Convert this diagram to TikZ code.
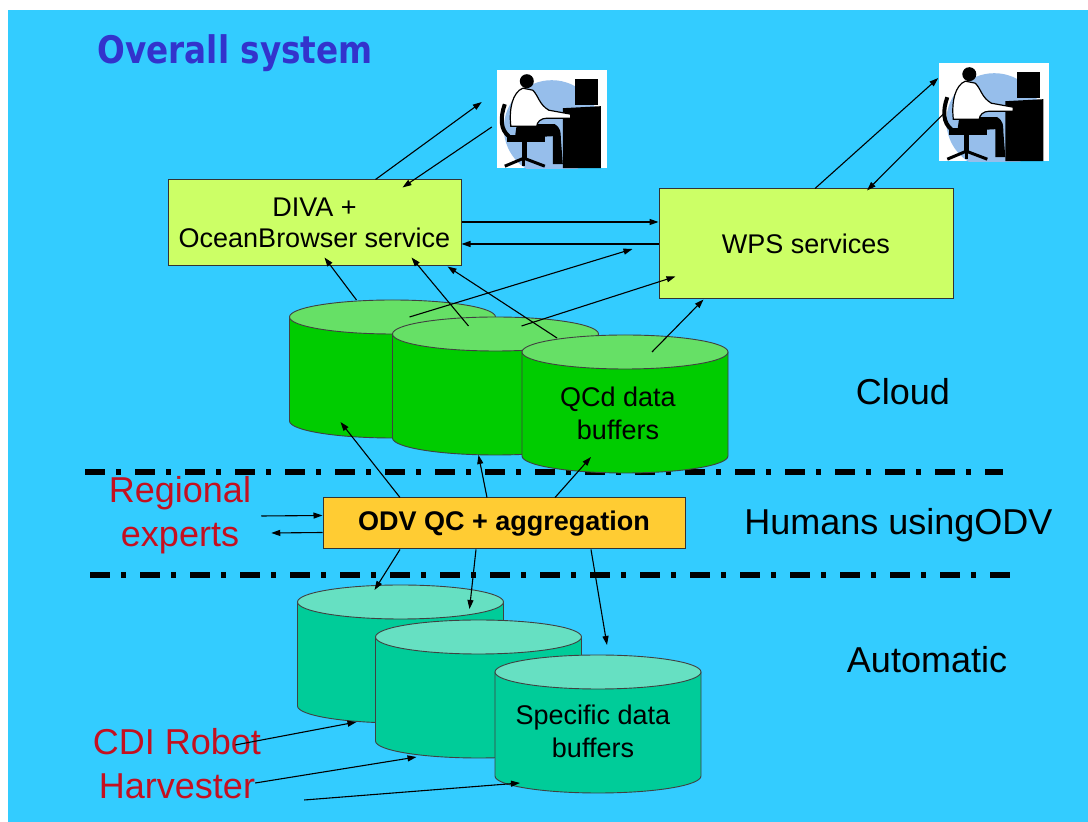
\documentclass[tikz,border=0pt]{standalone}
\usepackage{fontspec}
\setmainfont{Liberation Sans}
\newfontfamily\titlefont[FakeStretch=0.86]{DejaVu Sans}
\usetikzlibrary{arrows.meta}

\definecolor{skyback}{RGB}{51,204,255}
\definecolor{limebox}{RGB}{204,255,102}
\definecolor{amberbox}{RGB}{255,204,51}
\definecolor{cloudbody}{RGB}{0,204,0}
\definecolor{cloudtop}{RGB}{102,224,102}
\definecolor{tealbody}{RGB}{0,204,153}
\definecolor{tealtop}{RGB}{102,224,194}
\definecolor{titleblue}{RGB}{51,51,204}
\definecolor{expertred}{RGB}{196,16,32}
\definecolor{halo}{RGB}{150,190,235}

\begin{document}
\begin{tikzpicture}[
x=1pt, y=1pt,
every node/.style={
align=center,
inner sep=0pt
},
arrow/.style={-{Triangle[length=9pt,width=6pt]}, line width=1.1pt},
layerline/.style={line width=5.5pt, dash pattern=on 20pt off 11pt on 5pt off 14pt},
pics/drum/.style 2 args={code={
  \filldraw[fill=#1, draw=black!75, line width=0.9pt]
    (-103,0) -- (-103,-104)
    arc[start angle=180, end angle=360, x radius=103, y radius=17]
    -- (103,0) -- cycle;
  \filldraw[fill=#2, draw=black!75, line width=0.9pt]
    (0,0) ellipse[x radius=103, y radius=17];
  \coordinate (-top) at (0,0);
  \coordinate (-bot) at (0,-104);
}},
pics/deskuser/.style={code={
  \fill[white] (0,0) rectangle (110,98);
  \begin{scope}
    \clip (0,0) rectangle (110,98);
    \fill[halo] (55,40) circle[radius=48];
  \end{scope}
  % screen and desk
  \fill[black] (78,63) rectangle (101,89);
  \fill[black] (66,0) -- (66,60) -- (104,62) -- (104,0) -- cycle;
  % chair
  \draw[line width=4pt] (8,64) .. controls (3,50) and (4,38) .. (12,32);
  \fill[black] (10,26) rectangle (48,33);
  \fill[black] (25,8) rectangle (30,26);
  \draw[line width=3pt] (8,2) -- (27,10) -- (48,2);
  \draw[line width=3pt] (27,10) -- (27,2);
  % legs
  \fill[black] (18,30) -- (20,44) -- (58,44)
    .. controls (64,40) and (64,36) .. (64,30) -- (66,4) -- (56,4) -- (56,32) -- cycle;
  % shirt and head
  \filldraw[fill=white, draw=black, line width=1.2pt] (14,42)
    .. controls (12,60) and (16,76) .. (26,80) -- (36,78)
    .. controls (42,72) and (42,64) .. (52,58) -- (74,54) -- (74,50) -- (50,50)
    .. controls (44,50) and (40,46) .. (40,42) -- cycle;
  \fill[black] (30,87) circle[radius=7];
}}
]

% =====================================================
% Styles
% =====================================================

\tikzstyle{service} =
[rectangle,
fill=limebox,
draw=black!80,
line width=1pt,
font=\fontsize{27}{31}\selectfont]

\tikzstyle{odvbox} =
[rectangle,
fill=amberbox,
draw=black!80,
line width=1pt,
font=\fontsize{27}{31}\selectfont\bfseries]

\tikzstyle{layer} =
[font=\fontsize{36}{44}\selectfont]

\tikzstyle{actor} =
[font=\fontsize{36}{44}\selectfont,
text=expertred]

\tikzstyle{drumtext} =
[font=\fontsize{27}{33}\selectfont]

% =====================================================
% Background and layers
% =====================================================

\fill[white] (0,0) rectangle (1088,822);
\fill[skyback] (8,0) rectangle (1088,812);
\useasboundingbox (0,0) rectangle (1088,822);

\draw[layerline] (85,350) -- (1003,350);
\draw[layerline] (90,247) -- (1010,247);

% =====================================================
% Nodes
% =====================================================

\node (title) [font=\titlefont\bfseries\fontsize{38}{44}\selectfont, text=titleblue]
at (235,769) {Overall system};

\node (user1) [minimum width=110, minimum height=98] at (552,703) {};
\pic at (user1.south west) {deskuser};

\node (user2) [minimum width=110, minimum height=98] at (994.5,710) {};
\pic at (user2.south west) {deskuser};

\node (diva) [service, minimum width=293, minimum height=86] at (314.5,599)
{DIVA +\\OceanBrowser service};

\node (wps) [service, minimum width=294, minimum height=110] at (806,578)
{WPS services};

\pic (q1) at (392.5,505) {drum={cloudbody}{cloudtop}};
\pic (q2) at (495.5,488) {drum={cloudbody}{cloudtop}};
\pic (q3) at (625,470) {drum={cloudbody}{cloudtop}};
\node (qcd) [drumtext] at (618,409) {QCd data\\buffers};

\node (odv) [odvbox, minimum width=362, minimum height=51] at (504,298.5)
{ODV QC + aggregation};

\pic (s1) at (400.5,220) {drum={tealbody}{tealtop}};
\pic (s2) at (478.5,185) {drum={tealbody}{tealtop}};
\pic (s3) at (598,150) {drum={tealbody}{tealtop}};
\node (specific) [drumtext] at (593,91) {Specific data\\buffers};

\node (cloud) [layer] at (903,430) {Cloud};
\node (humans) [layer] at (898.5,297) {Humans usingODV};
\node (auto) [layer] at (927,162) {Automatic};

\node (experts) [actor] at (180,307) {Regional\\experts};
\node (robot) [actor] at (177,58) {CDI Robot\\Harvester};

% =====================================================
% Arrows
% =====================================================

\draw [arrow] ([xshift=61]diva.north) -- ([shift={(-15,17)}]user1.west);
\draw [arrow] ([shift={(-5,-8)}]user1.west) -- ([shift={(88,-8)}]diva.north);

\draw [arrow] ([xshift=9]wps.north) -- ([shift={(-1,34)}]user2.west);
\draw [arrow] ([xshift=6]user2.west) -- ([shift={(61,-2)}]wps.north);

\draw [arrow] ([yshift=1]diva.east) -- ([yshift=22]wps.west);
\draw [arrow] (wps.west) -- ([yshift=-21]diva.east);

\draw [arrow] ([shift={(-36,17)}]q1-top) -- ([shift={(10,9)}]diva.south);
\draw [arrow] ([shift={(-27,8)}]q2-top) -- ([shift={(97,9)}]diva.south);
\draw [arrow] ([shift={(-68,14)}]q3-top) -- ([xshift=-14]diva.south east);

\draw [arrow] ([xshift=17]q1-top) -- ([shift={(-26,-5)}]wps.west);
\draw [arrow] ([shift={(26,8)}]q2-top) -- ([shift={(17,23)}]wps.south west);
\draw [arrow] ([xshift=27]q3-top) -- ([xshift=45]wps.south west);

\draw [arrow] ([xshift=-104]odv.north) -- ([shift={(-52,-105)}]q1-top);
\draw [arrow] ([xshift=-17]odv.north) -- ([shift={(-17,-17)}]q2-bot);
\draw [arrow] ([xshift=51]odv.north) -- ([shift={(-34,-1)}]q3-bot);

\draw [arrow] ([shift={(10,-1)}]experts.east) -- ([yshift=8]odv.west);
\draw [arrow] ([yshift=-9]odv.west) -- ([shift={(20,-18)}]experts.east);

\draw [arrow] ([xshift=-104]odv.south) -- ([shift={(-26,12)}]s1-top);
\draw [arrow] ([xshift=-28]odv.south) -- ([shift={(69,-7)}]s1-top);
\draw [arrow] ([xshift=87]odv.south) -- ([shift={(9,27)}]s3-top);

\draw [arrow] ([shift={(-26,19)}]robot.east) -- ([shift={(-44,-16)}]s1-bot);
\draw [arrow] ([shift={(-6,-19)}]robot.east) -- ([shift={(-62,-16)}]s2-bot);
\draw [arrow] ([shift={(43,-36)}]robot.east) -- ([shift={(-78,-7)}]s3-bot);

\end{tikzpicture}
\end{document}
